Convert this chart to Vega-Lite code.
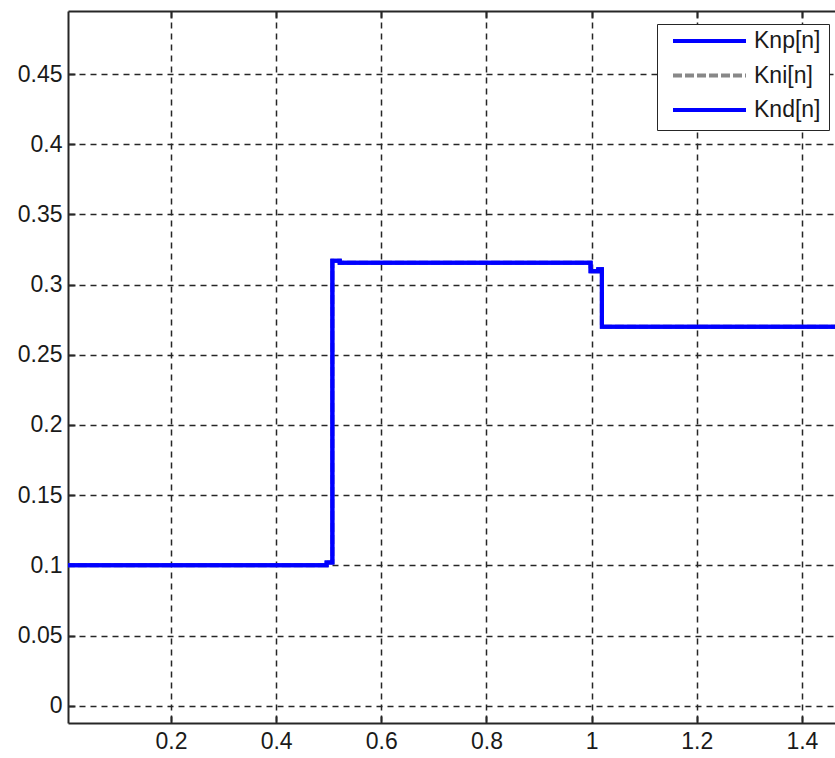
{
  "$schema": "https://vega.github.io/schema/vega-lite/v6.json",
  "width": 767,
  "height": 712,
  "autosize": "none",
  "padding": {"left": 68, "top": 11, "right": 0, "bottom": 35},
  "background": "white",
  "config": {
    "view": {"stroke": null},
    "font": "Liberation Sans",
    "axis": {
      "title": null,
      "format": "~g",
      "labelFont": "Liberation Sans",
      "labelFontSize": 23,
      "labelColor": "#1a1a1a",
      "domainColor": "#262626",
      "domainWidth": 2,
      "tickColor": "#262626",
      "tickWidth": 2,
      "tickSize": -7,
      "gridColor": "#262626",
      "gridWidth": 1.5,
      "gridDash": [6, 5],
      "gridOpacity": 1
    }
  },
  "data": {
    "values": [
      {"series": "Kni[n]", "t": 0.0, "k": 0.1},
      {"series": "Kni[n]", "t": 0.496, "k": 0.102},
      {"series": "Kni[n]", "t": 0.507, "k": 0.317},
      {"series": "Kni[n]", "t": 0.521, "k": 0.3155},
      {"series": "Kni[n]", "t": 0.998, "k": 0.3095},
      {"series": "Kni[n]", "t": 1.0127, "k": 0.311},
      {"series": "Kni[n]", "t": 1.0195, "k": 0.27},
      {"series": "Kni[n]", "t": 1.5, "k": 0.27},
      {"series": "Knp[n]", "t": 0.0, "k": 0.1},
      {"series": "Knp[n]", "t": 0.496, "k": 0.102},
      {"series": "Knp[n]", "t": 0.507, "k": 0.317},
      {"series": "Knp[n]", "t": 0.521, "k": 0.3155},
      {"series": "Knp[n]", "t": 0.998, "k": 0.3095},
      {"series": "Knp[n]", "t": 1.0127, "k": 0.311},
      {"series": "Knp[n]", "t": 1.0195, "k": 0.27},
      {"series": "Knp[n]", "t": 1.5, "k": 0.27},
      {"series": "Knd[n]", "t": 0.0, "k": 0.1},
      {"series": "Knd[n]", "t": 0.496, "k": 0.102},
      {"series": "Knd[n]", "t": 0.507, "k": 0.317},
      {"series": "Knd[n]", "t": 0.521, "k": 0.3155},
      {"series": "Knd[n]", "t": 0.998, "k": 0.3095},
      {"series": "Knd[n]", "t": 1.0127, "k": 0.311},
      {"series": "Knd[n]", "t": 1.0195, "k": 0.27},
      {"series": "Knd[n]", "t": 1.5, "k": 0.27}
    ]
  },
  "encoding": {
    "y": {
      "field": "k",
      "type": "quantitative",
      "scale": {"domain": [-0.0123, 0.4949], "zero": false, "nice": false},
      "axis": {
        "orient": "left",
        "values": [0, 0.05, 0.1, 0.15, 0.2, 0.25, 0.3, 0.35, 0.4, 0.45],
        "grid": true,
        "labelPadding": 13
      }
    },
    "color": {
      "field": "series",
      "type": "nominal",
      "scale": {
        "domain": ["Knp[n]", "Kni[n]", "Knd[n]"],
        "range": ["#0000ff", "#888888", "#0000ff"]
      },
      "legend": {
        "orient": "none",
        "legendX": 589,
        "legendY": 13,
        "title": null,
        "direction": "vertical",
        "fillColor": "white",
        "strokeColor": "#262626",
        "padding": 8,
        "symbolType": "stroke",
        "symbolSize": 5329,
        "symbolStrokeWidth": 4,
        "symbolOffset": 6,
        "labelOffset": 6,
        "labelFont": "Liberation Sans",
        "labelFontSize": 23,
        "labelColor": "#1a1a1a",
        "labelLimit": 0,
        "clipHeight": 18,
        "rowPadding": 11.5
      }
    },
    "strokeDash": {
      "field": "series",
      "type": "nominal",
      "scale": {
        "domain": ["Knp[n]", "Kni[n]", "Knd[n]"],
        "range": [[1, 0], [9, 3], [1, 0]]
      }
    }
  },
  "layer": [
    {
      "transform": [{"filter": "datum.series === 'Kni[n]'"}],
      "mark": {"type": "line", "interpolate": "step-after", "strokeWidth": 4, "clip": true},
      "encoding": {
        "x": {
          "field": "t",
          "type": "quantitative",
          "scale": {"domain": [0.0042, 1.4629], "zero": false, "nice": false},
          "axis": {
            "orient": "bottom",
            "values": [0.2, 0.4, 0.6, 0.8, 1, 1.2, 1.4],
            "grid": true,
            "labelPadding": 14
          }
        }
      }
    },
    {
      "transform": [{"filter": "datum.series !== 'Kni[n]'"}],
      "mark": {"type": "line", "interpolate": "step-after", "strokeWidth": 4, "clip": true},
      "encoding": {
        "x": {
          "field": "t",
          "type": "quantitative",
          "scale": {"domain": [0.0042, 1.4629], "zero": false, "nice": false},
          "axis": {
            "orient": "top",
            "values": [0.2, 0.4, 0.6, 0.8, 1, 1.2, 1.4],
            "grid": false,
            "labels": false
          }
        }
      }
    }
  ],
  "resolve": {"axis": {"x": "independent"}}
}
